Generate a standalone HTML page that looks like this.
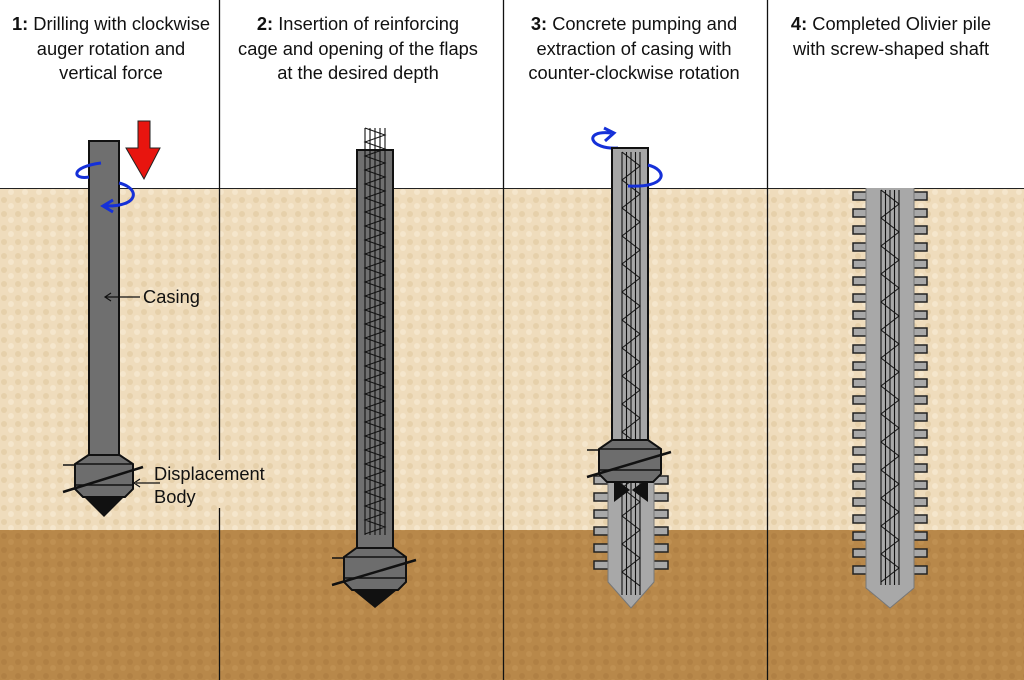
<!DOCTYPE html>
<html><head><meta charset="utf-8"><style>
html,body{margin:0;padding:0;background:#fff;}
svg{display:block;}
text{font-family:"Liberation Sans",sans-serif;font-size:18.3px;fill:#111;}
</style></head><body>
<svg id="s" width="1024" height="680" viewBox="0 0 1024 680" xmlns="http://www.w3.org/2000/svg">
<defs>
<pattern id="tex" width="14" height="14" patternUnits="userSpaceOnUse">
<rect width="14" height="14" fill="#efdcbc"/>
<circle cx="4" cy="4" r="3" fill="#e6d0aa"/>
<circle cx="11" cy="10" r="3" fill="#f5e6cc"/>
</pattern>
<pattern id="tex2" width="14" height="14" patternUnits="userSpaceOnUse">
<rect width="14" height="14" fill="#b8884a"/>
<circle cx="4" cy="4" r="3" fill="#b08044"/>
<circle cx="11" cy="10" r="3" fill="#bf9052"/>
</pattern>
</defs>
<rect x="0" y="188" width="1024" height="342" fill="url(#tex)"/>
<rect x="0" y="530" width="1024" height="150" fill="url(#tex2)"/>
<line x1="0" y1="188.5" x2="1024" y2="188.5" stroke="#222" stroke-width="1"/>
<g stroke="#111" stroke-width="1.3">
<line x1="219.5" y1="0" x2="219.5" y2="460"/><line x1="219.5" y1="508" x2="219.5" y2="680"/>
<line x1="503.5" y1="0" x2="503.5" y2="680"/>
<line x1="767.5" y1="0" x2="767.5" y2="680"/>
</g>
<text x="111" y="30" text-anchor="middle"><tspan font-weight="bold">1:</tspan> Drilling with clockwise</text>
<text x="111" y="55" text-anchor="middle">auger rotation and</text>
<text x="111" y="79" text-anchor="middle">vertical force</text>
<text x="358" y="30" text-anchor="middle"><tspan font-weight="bold">2:</tspan> Insertion of reinforcing</text>
<text x="358" y="55" text-anchor="middle">cage and opening of the flaps</text>
<text x="358" y="79" text-anchor="middle">at the desired depth</text>
<text x="634" y="30" text-anchor="middle"><tspan font-weight="bold">3:</tspan> Concrete pumping and</text>
<text x="634" y="55" text-anchor="middle">extraction of casing with</text>
<text x="634" y="79" text-anchor="middle">counter-clockwise  rotation</text>
<text x="891" y="30" text-anchor="middle"><tspan font-weight="bold">4:</tspan> Completed Olivier pile</text>
<text x="891" y="55" text-anchor="middle">with screw-shaped shaft</text>
<!-- panel 1 -->
<rect x="89" y="141" width="30" height="316" fill="#6f6f6f" stroke="#111" stroke-width="2"/>
<polygon points="138,121 150,121 150,148 160,148 144,179 126,148 138,148" fill="#e8150f" stroke="#222" stroke-width="1"/>
<path d="M101,163 C70,167 72,180 89,177" fill="none" stroke="#1530d8" stroke-width="3"/>
<path d="M119,183 C140,188 140,207 105,206 M113,200 L103,206 L113,212" fill="none" stroke="#1530d8" stroke-width="3"/>
<text x="143" y="303">Casing</text>
<line x1="140" y1="297" x2="106" y2="297" stroke="#111" stroke-width="1.2"/>
<path d="M111,293 L105,297 L111,301" fill="none" stroke="#111" stroke-width="1.2"/>
<text x="154" y="480">Displacement</text>
<text x="154" y="503">Body</text>
<line x1="160" y1="483" x2="136" y2="483" stroke="#111" stroke-width="1.2"/>
<path d="M140,479 L134,483 L140,487" fill="none" stroke="#111" stroke-width="1.2"/>
<path d="M618,148 C590,150 582,130 611,133 M604,128 L614,133 L605,141" fill="none" stroke="#1530d8" stroke-width="3"/>
<g id="g"></g>
<path d="M648,165 C668,170 668,188 628,186" fill="none" stroke="#1530d8" stroke-width="3"/>
</svg>
<script>
var g=document.getElementById('g'),h='';
function body(cx,y,w,top){
 var l=cx-w/2,r=cx+w/2,il=cx-top/2,ir=cx+top/2;
 var s='<polygon points="'+il+','+y+' '+ir+','+y+' '+r+','+(y+9)+' '+r+','+(y+34)+' '+(r-8)+','+(y+42)+' '+(l+8)+','+(y+42)+' '+l+','+(y+34)+' '+l+','+(y+9)+'" fill="#6d6d6d" stroke="#111" stroke-width="2"/>';
 s+='<line x1="'+l+'" y1="'+(y+9)+'" x2="'+r+'" y2="'+(y+9)+'" stroke="#111" stroke-width="1.5"/>';
 s+='<line x1="'+l+'" y1="'+(y+30)+'" x2="'+r+'" y2="'+(y+30)+'" stroke="#111" stroke-width="1.5"/>';
 s+='<line x1="'+(l-12)+'" y1="'+(y+37)+'" x2="'+(r+10)+'" y2="'+(y+12)+'" stroke="#111" stroke-width="2.5"/>';
 s+='<line x1="'+(l-12)+'" y1="'+(y+10)+'" x2="'+l+'" y2="'+(y+10)+'" stroke="#111" stroke-width="1.5"/>';
 return s;
}
function cone(cx,y,w,hh){return '<polygon points="'+(cx-w/2)+','+y+' '+(cx+w/2)+','+y+' '+cx+','+(y+hh)+'" fill="#111"/>';}
function cage(x1,x2,y1,y2,n,st){
 var s='';for(var i=0;i<=n;i++){var x=x1+(x2-x1)*i/n;s+='<line x1="'+x+'" y1="'+y1+'" x2="'+x+'" y2="'+y2+'" stroke="#111" stroke-width="1.1"/>';}
 var p='M'+x1+','+y1;var k=0;for(var y=y1+st;y<=y2;y+=st){k++;p+=' L'+(k%2?x2:x1)+','+y;}
 s+='<path d="'+p+'" fill="none" stroke="#111" stroke-width="1"/>';return s;
}
function pile(cx,y1,y2,w,fl,pt,f0){
 var l=cx-w/2,r=cx+w/2,s='';
 for(var y=f0;y<y2-6;y+=17){
  s+='<rect x="'+(l-fl)+'" y="'+y+'" width="'+(fl+2)+'" height="8" fill="#a8a8a8" stroke="#222" stroke-width="1.5"/>';
  s+='<rect x="'+(r-2)+'" y="'+y+'" width="'+(fl+2)+'" height="8" fill="#a8a8a8" stroke="#222" stroke-width="1.5"/>';
 }
 s+='<polygon points="'+l+','+y1+' '+r+','+y1+' '+r+','+y2+' '+cx+','+(y2+pt)+' '+l+','+y2+'" fill="#a8a8a8"/>';
 s+='<polyline points="'+l+','+y1+' '+l+','+y2+' '+cx+','+(y2+pt)+' '+r+','+y2+' '+r+','+y1+'" fill="none" stroke="#777" stroke-width="1"/>';
 return s;
}
h+=body(104,455,58,31)+cone(104,497,40,20);
// panel2
h+='<rect x="357" y="150" width="36" height="400" fill="#707070" stroke="#111" stroke-width="2"/>';
h+=cage(365,385,128,535,4,7);
h+=body(375,548,62,37)+cone(375,590,44,18);
// panel3
h+='<rect x="612" y="148" width="36" height="295" fill="#a6a6a6" stroke="#111" stroke-width="2"/>';
h+=pile(631,478,582,46,14,26,476);
h+=cage(622,640,152,595,4,14);
h+='<polygon points="614,478 630,490 614,502" fill="#111"/><polygon points="648,478 632,490 648,502" fill="#111"/>';
h+=body(630,440,62,36);
// panel4
h+=pile(890,188,588,48,13,20,192);
h+=cage(881,899,190,585,4,14);
g.innerHTML=h;
</script>
</body></html>
